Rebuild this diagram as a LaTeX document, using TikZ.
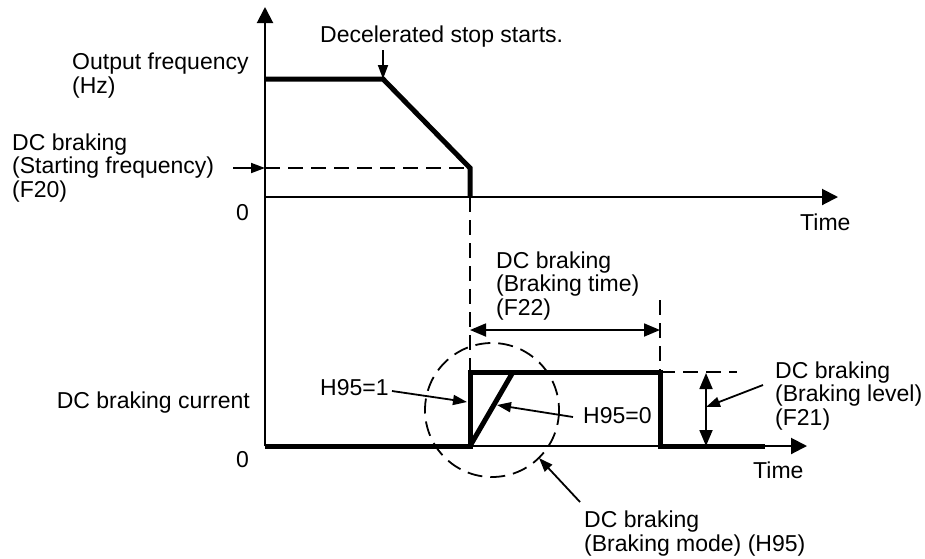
\documentclass[tikz,border=0pt]{standalone}
\usepackage{fontspec}
\setmainfont{Liberation Sans}
\usetikzlibrary{arrows.meta}
\begin{document}
\begin{tikzpicture}[x=1pt,y=-1pt,
  lbl/.style={inner sep=0pt, anchor=base west, font=\fontsize{23}{23.5}\selectfont, align=left},
  axis/.style={line width=2pt, -{Triangle[length=16pt,width=16pt]}},
  thick line/.style={line width=5pt},
  dash line/.style={line width=1.8pt, dash pattern=on 15pt off 8pt},
  pointer/.style={line width=1.8pt, -{Triangle[length=14pt,width=10pt]}},
  dim/.style={line width=1.8pt, {Triangle[length=16pt,width=13pt]}-{Triangle[length=16pt,width=13pt]}}]
\useasboundingbox (0,0) rectangle (925,558);
% coordinates
\coordinate (o2) at (265,446);
\coordinate (ytop) at (265,7);
\coordinate (o1) at (265,197);
\coordinate (t1) at (838,197);
\coordinate (t2) at (807,446);
\coordinate (f0) at (265,79);
\coordinate (f1) at (383,79);
\coordinate (f2) at (470,168);
\coordinate (f3) at (470,197);
\coordinate (fl) at (265,168);
\coordinate (c1) at (470,446);
\coordinate (c2) at (470,372);
\coordinate (c3) at (660,372);
\coordinate (c4) at (660,446);
\coordinate (c5) at (765,446);
\coordinate (r1) at (513,372);
\coordinate (d2top) at (660,300);
\coordinate (lvlend) at (737,372);
\coordinate (bt1) at (470,330);
\coordinate (bt2) at (660,330);
\coordinate (bl1) at (706,373);
\coordinate (bl2) at (706,446);
\coordinate (blmid) at (706,407);
\coordinate (cc) at (492,410);
\coordinate (decs) at (383,50);
\coordinate (sfs) at (233,168);
\coordinate (h1s) at (392,391);
\coordinate (h1e) at (467,402);
\coordinate (h0s) at (573,417);
\coordinate (h0e) at (497,405);
\coordinate (bms) at (580,502);
\coordinate (bme) at (539,458);
\coordinate (bls) at (763,385);
% axes
\draw[axis] (o2) -- (ytop);
\draw[axis] (o1) -- (t1);
\draw[axis] (o2) -- (t2);
% dashed guide lines
\draw[dash line] (fl) -- (f2);
\draw[dash line] (f3) -- (c2);
\draw[dash line] (d2top) -- (c3);
\draw[dash line] (c3) -- (lvlend);
\draw[dash line] (cc) circle (67);
% output frequency
\draw[thick line] (f0) -- (f1) -- (f2) -- (f3);
% braking current
\draw[thick line] (o2) -- (c1) -- (c2) -- (c3) -- (c4) -- (c5);
\draw[thick line] (c1) -- (r1);
% dimension arrows
\draw[dim] (bt1) -- (bt2);
\draw[dim] (bl1) -- (bl2);
% pointers
\draw[pointer] (decs) -- (f1);
\draw[pointer] (sfs) -- (fl);
\draw[pointer] (h1s) -- (h1e);
\draw[pointer] (h0s) -- (h0e);
\draw[pointer] (bms) -- (bme);
\draw[pointer] (bls) -- (blmid);
% labels (multi-line nodes: base = baseline of last line)
\node[lbl] (ofreq) at (72,93) {Output frequency\\(Hz)};
\node[lbl] (sfreq) at (12,197) {DC braking\\(Starting frequency)\\(F20)};
\node[lbl] (zero1) at (236,220) {0};
\node[lbl] (zero2) at (236,467) {0};
\node[lbl] (dec) at (320,42) {Decelerated stop starts.};
\node[lbl] (time1) at (800,230) {Time};
\node[lbl] (time2) at (753,478) {Time};
\node[lbl] (btime) at (496,315) {DC braking\\(Braking time)\\(F22)};
\node[lbl] (blevel) at (775,425) {DC braking\\(Braking level)\\(F21)};
\node[lbl, anchor=base east] (curr) at (250,408) {DC braking current};
\node[lbl] (h951) at (320,395) {H95=1};
\node[lbl] (h950) at (583,423) {H95=0};
\node[lbl] (bmode) at (584,551) {DC braking\\(Braking mode) (H95)};
\end{tikzpicture}
\end{document}
